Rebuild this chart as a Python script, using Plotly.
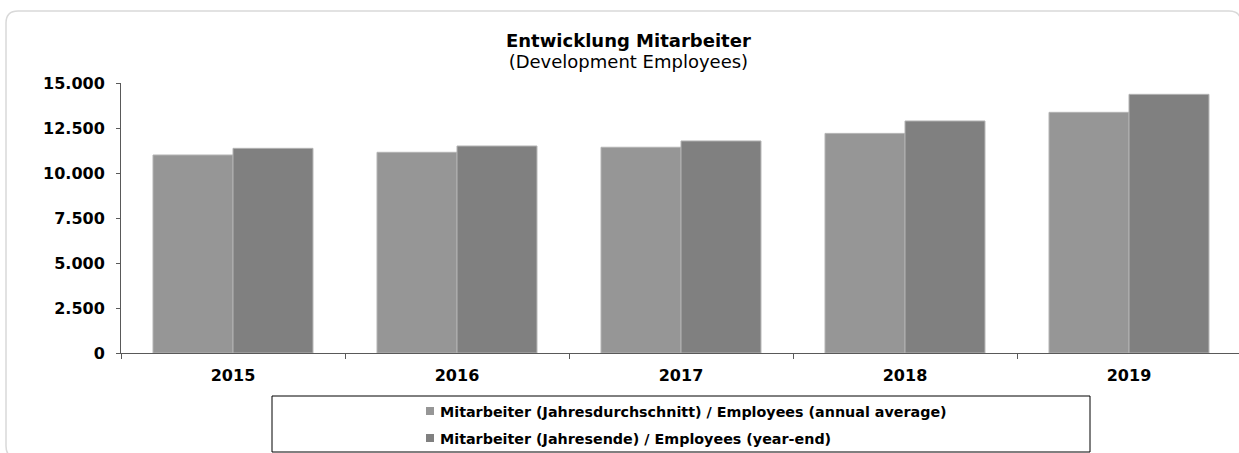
import plotly.graph_objects as go

# ---- data ----
years = ["2015", "2016", "2017", "2018", "2019"]
avg_employees = [11000, 11150, 11430, 12200, 13370]
yearend_employees = [11370, 11500, 11780, 12890, 14370]
series_names = [
    "Mitarbeiter (Jahresdurchschnitt) / Employees (annual average)",
    "Mitarbeiter (Jahresende) / Employees (year-end)",
]
series_colors = ["#969696", "#808080"]
title_text = "Entwicklung Mitarbeiter"
subtitle_text = "(Development Employees)"
y_ticks = [0, 2500, 5000, 7500, 10000, 12500, 15000]

# ---- layout geometry (pixels) ----
W, H = 1239, 453
L, R, T, B = 121, 0, 83, 100
PW, PH = W - L - R, H - T - B
CAT_W = 224.0
FONT = "DejaVu Sans, Verdana, sans-serif"


def px(x):
    return (x - L) / PW


def py(y):
    return (H - B - y) / PH


fig = go.Figure()
for name, vals, col in zip(series_names, [avg_employees, yearend_employees], series_colors):
    fig.add_trace(go.Bar(
        x=years, y=vals, name=name, showlegend=False,
        marker=dict(color=col, line=dict(color="#b3b3b3", width=1)),
    ))

# rounded outer frame
fx0, fy0, fx1, fy1, rr = 6, 11, 1241, 458, 12
path = (
    f"M {px(fx0 + rr)},{py(fy0)} L {px(fx1 - rr)},{py(fy0)} "
    f"Q {px(fx1)},{py(fy0)} {px(fx1)},{py(fy0 + rr)} L {px(fx1)},{py(fy1 - rr)} "
    f"Q {px(fx1)},{py(fy1)} {px(fx1 - rr)},{py(fy1)} L {px(fx0 + rr)},{py(fy1)} "
    f"Q {px(fx0)},{py(fy1)} {px(fx0)},{py(fy1 - rr)} L {px(fx0)},{py(fy0 + rr)} "
    f"Q {px(fx0)},{py(fy0)} {px(fx0 + rr)},{py(fy0)} Z"
)
shapes = [dict(type="path", path=path, xref="paper", yref="paper",
               line=dict(color="#d9d9d9", width=1.5), layer="below")]

# legend box
shapes.append(dict(type="rect", xref="paper", yref="paper",
                   x0=px(272), x1=px(1090), y0=py(396), y1=py(452),
                   line=dict(color="#000000", width=1), fillcolor="rgba(0,0,0,0)"))

# title + subtitle in one text element (line spacing 1.3 x base size)
annotations = [
    dict(text=(f"<span style='font-size:18px'><b>{title_text}</b></span><br>"
               f"<span style='font-size:18px'>{subtitle_text}</span>"),
         x=px(628), y=py(28), xref="paper", yref="paper",
         xanchor="center", yanchor="top", showarrow=False, align="center",
         font=dict(family=FONT, size=16, color="#000000")),
]

row_centers = [411, 438]
for name, col, yc in zip(series_names, series_colors, row_centers):
    shapes.append(dict(type="rect", xref="paper", yref="paper",
                       x0=px(426), x1=px(434), y0=py(yc - 4), y1=py(yc + 4),
                       line=dict(width=0), fillcolor=col))
    annotations.append(dict(text=f"<b>{name}</b>", x=px(438), y=py(yc + 1),
                            xref="paper", yref="paper", xanchor="left", yanchor="middle",
                            showarrow=False,
                            font=dict(family=FONT, size=14.3, color="#000000")))

fig.update_layout(
    width=W, height=H,
    margin=dict(l=L, r=R, t=T, b=B, pad=0),
    paper_bgcolor="#ffffff", plot_bgcolor="#ffffff",
    separators=",.",
    barmode="group", bargap=0.286, bargroupgap=0,
    shapes=shapes, annotations=annotations,
    showlegend=False,
    font=dict(family=FONT, color="#000000"),
)
fig.update_xaxes(
    type="category", range=[-0.5, -0.5 + PW / CAT_W],
    showline=True, linecolor="#595959", linewidth=1,
    ticks="outside", tickson="boundaries", ticklen=5, tickcolor="#595959",
    showgrid=False, zeroline=False,
    tickfont=dict(family=FONT, size=16, color="#000000", weight="bold"),
    ticklabelstandoff=8,
)
fig.update_yaxes(
    range=[0, 15000], tickvals=y_ticks, tickformat=",.0f",
    showline=True, linecolor="#595959", linewidth=1,
    ticks="outside", ticklen=4, tickcolor="#595959",
    showgrid=False, zeroline=False,
    tickfont=dict(family=FONT, size=16, color="#000000", weight="bold"),
    ticklabelstandoff=8,
)

fig.write_html("out.html", config={"displayModeBar": False},
               post_script="document.body.style.margin='0';document.body.style.overflow='hidden';")
